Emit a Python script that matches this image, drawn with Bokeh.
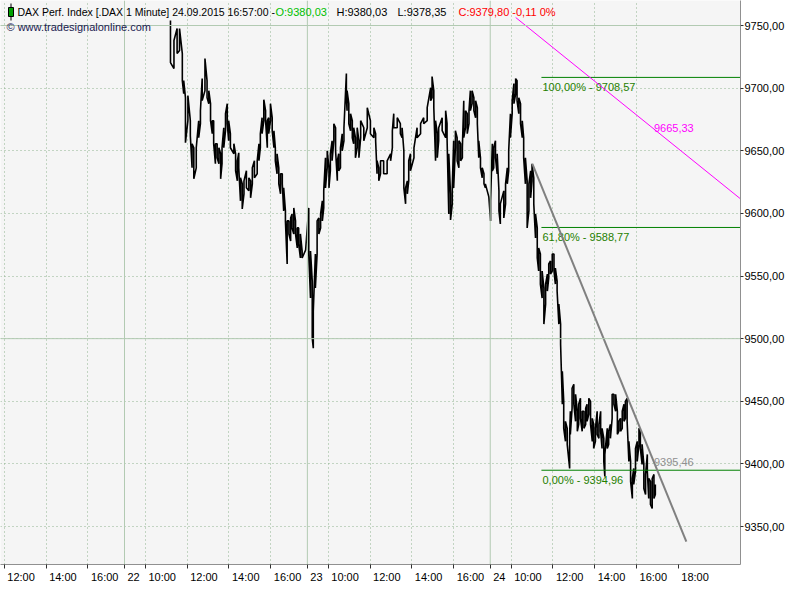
from bokeh.plotting import figure
from bokeh.models import FixedTicker, Span, Label, BoxAnnotation
from bokeh.embed import file_html
from bokeh.resources import INLINE
from bokeh.core.properties import value

# ---------------- data ----------------
# x unit: trading minutes since 22.09.2015 09:00 (one session = 525 min, 09:00-17:45)
bar_minute = [
    132, 142, 151, 158, 166, 170, 175, 182, 189, 194, 199, 206, 213, 218, 223, 231, 237, 242, 247, 252,
    256, 261, 266, 271, 276, 280, 285, 290, 295, 299, 304, 314, 319, 324, 328, 333, 338, 343, 350, 357,
    362, 367, 373, 381, 386, 390, 395, 400, 405, 410, 414, 419, 424, 429, 433, 438, 443, 448, 453, 457,
    462, 467, 472, 477, 481, 486, 491, 496, 500, 505, 510, 520,
    529, 534, 539, 542, 548, 553, 558, 563, 568, 572,
    577, 582, 587, 591, 596, 601, 606, 611, 615, 620, 625, 630, 637, 639, 644, 649, 654, 658, 663, 668,
    673, 678, 687, 697, 706, 716, 721, 725, 730, 735, 744, 754, 764, 769, 773, 783, 792, 797, 802, 807,
    812, 816, 821, 831, 840, 850, 859, 869, 879, 883, 888, 893, 898, 902, 912, 922, 926, 931, 936, 941,
    945, 950, 955, 960, 965, 970, 974, 979, 984, 989, 993, 998, 1003, 1008, 1013, 1017, 1022, 1027, 1032, 1036,
    1046, 1051, 1056, 1060, 1065, 1070, 1075, 1079,
    1089, 1094, 1099, 1103, 1108, 1113, 1118, 1123, 1127, 1132, 1137, 1142, 1146, 1151, 1156, 1161, 1166, 1170,
    1175, 1180, 1185, 1189, 1194, 1199, 1204, 1209, 1214, 1218, 1223, 1228, 1233, 1237, 1242, 1247, 1252, 1257,
    1261, 1266, 1271, 1278, 1280, 1285, 1290, 1295, 1300, 1304, 1309, 1314, 1319, 1324, 1328, 1333, 1338, 1343,
    1347, 1352, 1357, 1362, 1367, 1371, 1376, 1379, 1386, 1390, 1395, 1400, 1405, 1410, 1415, 1419, 1424, 1429,
    1434, 1438, 1443, 1448, 1453, 1458, 1462, 1467, 1472, 1477, 1481, 1486, 1491, 1496, 1501, 1505, 1510, 1515,
    1520, 1524,
]
bar_high = [
    9754, 9738, 9747.6, 9747.6, 9727.6, 9706, 9692.4, 9694, 9674, 9655.6, 9652.4, 9652.4, 9674, 9682, 9707.6,
    9723.6, 9706, 9698, 9687.6, 9674, 9674, 9655.6, 9655.6, 9652.4, 9647.6, 9652.4, 9668.4, 9679.6, 9687.6, 9674,
    9663.6, 9655.6, 9647.6, 9642, 9648.4, 9628.4, 9623.6, 9626, 9634, 9628.4, 9626, 9636.4, 9642, 9642, 9655.6,
    9663.6, 9676.4, 9690.8, 9682, 9674, 9676.4, 9687.6, 9676.4, 9666, 9652.4, 9647.6, 9636.4, 9631.6, 9631.6,
    9620.4, 9602, 9594, 9594, 9596.4, 9599.6, 9604.4, 9594, 9588.4, 9588.4, 9583.6, 9570, 9570.8,
    9604.4, 9570, 9546, 9522, 9567.6, 9594, 9596.4, 9599.6, 9610, 9618,
    9644.4, 9650, 9636.4, 9647.6, 9658, 9671.6, 9668.4, 9642, 9647.6, 9652.4, 9663.6, 9668.4, 9711.6, 9698,
    9687.6, 9679.6, 9674, 9668.4, 9660.4, 9668.4, 9658, 9674, 9668.4, 9684.4, 9674, 9668.4, 9663.6, 9642,
    9636.4, 9642, 9642, 9642, 9647.6, 9666, 9679.6, 9676.4, 9671.6, 9668.4, 9650, 9620.4, 9626, 9642, 9647.6,
    9652.4, 9668.4, 9671.6, 9676.4, 9684.4, 9700.4, 9709.2, 9698, 9674, 9663.6, 9668.4, 9676.4, 9682, 9671.6,
    9647.6, 9615.6, 9620.4, 9658, 9666, 9660.4, 9658, 9655.6, 9652.4, 9690, 9682, 9679.6, 9682, 9698, 9698,
    9692.4, 9690, 9684.4, 9658, 9644.4, 9636.4, 9631.6, 9623.6, 9613.2, 9610, 9655.6, 9652.4, 9658, 9647.6,
    9618, 9607.6,
    9618, 9623.6, 9636.4, 9650, 9679.6, 9690, 9703.6, 9707.6, 9706, 9692.4, 9687.6, 9674, 9660.4, 9644.4, 9626,
    9623.6, 9634, 9639.6, 9628.4, 9599.6, 9588.4, 9572.4, 9567.6, 9554, 9540.4, 9543.6, 9551.6, 9559.6, 9562,
    9567.6, 9567.6, 9556.4, 9546, 9527.6, 9511.6, 9474,
    9450, 9434, 9428.4, 9423.6, 9442, 9460.4, 9463.6, 9455.6, 9442, 9447.6, 9452.4, 9442, 9442, 9444.4, 9447.6,
    9452.4, 9450, 9436.4, 9431.6, 9428.4, 9442, 9431.6, 9442, 9428.4, 9420.4, 9407.6, 9428.4, 9426, 9431.6,
    9455.6, 9455.6, 9455.6, 9442, 9434, 9436.4, 9442, 9447.6, 9450, 9452.4, 9418, 9402, 9388.4, 9396.4, 9412.4,
    9418, 9428.4, 9426, 9415.6, 9399.6, 9391.6, 9407.6, 9388.4, 9386, 9388.4, 9391.6, 9383.6,
]
bar_low = [
    9720.4, 9715.6, 9727.6, 9730, 9706, 9695.6, 9656.4, 9674, 9662, 9636.4, 9627.6, 9636.4, 9660.4, 9671.6, 9690,
    9698, 9692.4, 9687.6, 9674, 9663.6, 9655.6, 9639.6, 9644.4, 9639.6, 9627.6, 9639.6, 9652.4, 9666, 9671.6, 9658,
    9652.4, 9647.6, 9634, 9626, 9636.4, 9610, 9603.6, 9615.6, 9620.4, 9618, 9612.4, 9623.6, 9628.4, 9631.6, 9642,
    9652.4, 9663.6, 9674, 9674, 9652.4, 9663.6, 9674, 9666, 9652.4, 9642, 9631.6, 9623.6, 9615.6, 9623.6, 9602,
    9594, 9559.6, 9583.6, 9578, 9588.4, 9583.6, 9583.6, 9572.4, 9575.6, 9564.4, 9564.4, 9570.8,
    9567.6, 9532.4, 9500.4, 9492.4, 9540.4, 9567.6, 9583.6, 9588.4, 9594, 9604.4,
    9620.4, 9636.4, 9620.4, 9634, 9642, 9658, 9650, 9626, 9634, 9636.4, 9650, 9658, 9692.4, 9682, 9671.6, 9666,
    9660.4, 9655.6, 9644.4, 9652.4, 9644.4, 9660.4, 9658, 9668.4, 9663.6, 9660.4, 9658, 9631.6, 9626, 9631.6,
    9631.6, 9631.6, 9642, 9652.4, 9668.4, 9668.4, 9663.6, 9660.4, 9620.4, 9607.6, 9615.6, 9626, 9634, 9644.4,
    9660.4, 9663.6, 9671.6, 9674, 9690, 9692.4, 9684.4, 9642, 9644.4, 9658, 9666, 9660.4, 9660.4, 9599.6, 9594.8,
    9607.6, 9620.4, 9652.4, 9642, 9636.4, 9642, 9644.4, 9660.4, 9668.4, 9663.6, 9671.6, 9682, 9687.6, 9682,
    9676.4, 9671.6, 9644.4, 9636.4, 9628.4, 9623.6, 9620.4, 9613.2, 9594, 9634, 9636.4, 9644.4, 9631.6, 9602,
    9591.6,
    9596.4, 9607.6, 9623.6, 9634, 9660.4, 9679.6, 9687.6, 9695.6, 9690, 9679.6, 9671.6, 9660.4, 9644.4, 9623.6,
    9588.4, 9602, 9612.4, 9626, 9607.6, 9580.4, 9564.4, 9554, 9543.6, 9532.4, 9511.6, 9527.6, 9538, 9548.4,
    9551.6, 9554, 9554, 9543.6, 9538, 9511.6, 9495.6, 9447.6,
    9428.4, 9418, 9415.6, 9396.4, 9423.6, 9444.4, 9447.6, 9434, 9426, 9431.6, 9436.4, 9426, 9428.4, 9431.6, 9434,
    9439.6, 9431.6, 9418, 9412.4, 9418, 9423.6, 9420.4, 9426, 9412.4, 9402, 9390, 9412.4, 9415.6, 9420.4, 9436.4,
    9447.6, 9442, 9423.6, 9426, 9426, 9428.4, 9434, 9436.4, 9434, 9402, 9386, 9372.4, 9383.6, 9394, 9402, 9415.6,
    9412.4, 9399.6, 9380.4, 9375.6, 9394, 9372.4, 9367.6, 9364.4, 9372.4, 9375.6,
]

# time axis (trading minutes) and its labels
x_tick_values = [-345, -225, -105, 0, 60, 180, 300, 420, 525, 585, 705, 825, 945,
                 1050, 1110, 1230, 1350, 1470, 1590]
x_tick_labels = ["12:00", "14:00", "16:00", "22", "10:00", "12:00", "14:00", "16:00", "23",
                 "10:00", "12:00", "14:00", "16:00", "24", "10:00", "12:00", "14:00", "16:00", "18:00"]
day_starts = [0, 525, 1050]
grid_hours = [-345, -225, -105, 60, 180, 300, 420, 585, 705, 825, 945, 1110, 1230, 1350, 1470]

# price axis
y_tick_values = [9350, 9400, 9450, 9500, 9550, 9600, 9650, 9700, 9750]
y_major_lines = [9500, 9750]

# Fibonacci retracement
fib_start = 1197
fib_levels = [9708.57, 9588.77, 9394.96]
fib_labels = ["100,00% - 9708,57", "61,80% - 9588,77", "0,00% - 9394,96"]

# trend lines
trend_minute = [1171, 1613]
trend_price = [9639.6, 9338.0]
trend_label = "9395,46"
trend_label_price = 9395.46
magenta_minute = [1123, 1768.5]
magenta_price = [9756.4, 9611.6]
magenta_label = "9665,33"
magenta_label_price = 9665.33
label_minute = 1520

header_title = "DAX Perf. Index [.DAX 1 Minute] 24.09.2015 16:57:00 -"
header_fields = [
    ("O:9380,03", "#00c000", 275),
    ("H:9380,03", "#000000", 336),
    ("L:9378,35", "#000000", 397),
    ("C:9379,80 -0,11 0%", "#ff0000", 458),
]

# ---------------- figure ----------------
FRAME_W, FRAME_H = 740, 564
X0, X1 = -356, 1768.5
Y0, Y1 = 9319.7, 9769.96
FONT = "Liberation Sans"

p = figure(frame_width=FRAME_W, frame_height=FRAME_H, x_range=(X0, X1), y_range=(Y0, Y1),
           y_axis_location="right", output_backend="svg", toolbar_location=None,
           min_border_left=0, min_border_top=0, min_border_right=44, min_border_bottom=20)
p.background_fill_color = "#f5f5f5"
p.border_fill_color = "white"
p.outline_line_color = None

# grids
p.ygrid.ticker = FixedTicker(ticks=y_tick_values)
p.xgrid.ticker = FixedTicker(ticks=grid_hours)
for g in (p.xgrid, p.ygrid):
    g.grid_line_color = "#8fb38f"
    g.grid_line_dash = "1 3"
    g.grid_line_width = 1
for v in y_major_lines:
    p.add_layout(Span(location=v, dimension="width", line_color="#b2cab2", line_width=1))
for v in day_starts:
    p.add_layout(Span(location=v, dimension="height", line_color="#b2cab2", line_width=1))

# x axis: labels start just right of their tick
px_per_min = FRAME_W / (X1 - X0)
def label_width(s):
    return sum(3.06 if c == ":" else 6.12 for c in s)
label_pos = [round(v + (3 + label_width(s) / 2) / px_per_min, 3) for v, s in zip(x_tick_values, x_tick_labels)]
xa = p.xaxis[0]
xa.ticker = FixedTicker(ticks=label_pos, minor_ticks=x_tick_values)
xa.major_label_overrides = {pos: s for pos, s in zip(label_pos, x_tick_labels)}
xa.major_tick_out = 0
xa.major_tick_in = 0
xa.minor_tick_out = 4
xa.minor_tick_in = 0
xa.minor_tick_line_color = "#303030"
xa.axis_line_color = "#909090"
xa.major_label_standoff = 2
xa.major_label_text_font = FONT
xa.major_label_text_font_size = "11px"
xa.major_label_text_color = "#000000"

ya = p.yaxis[0]
ya.ticker = FixedTicker(ticks=y_tick_values)
ya.major_label_overrides = {v: f"{v:.2f}".replace(".", ",") for v in y_tick_values}
ya.major_tick_out = 3
ya.major_tick_in = 0
ya.minor_tick_out = 0
ya.minor_tick_in = 0
ya.major_tick_line_color = "#303030"
ya.axis_line_color = "#909090"
ya.major_label_standoff = 1
ya.major_label_text_font = FONT
ya.major_label_text_font_size = "11px"
ya.major_label_text_color = "#000000"

# price path (1-minute bars drawn as a zig-zag through highs and lows)
xs, ys = [], []
for i, (m, h, l) in enumerate(zip(bar_minute, bar_high, bar_low)):
    xs += [m, m]
    ys += [h, l] if i % 2 == 0 else [l, h]
p.line(xs, ys, line_color="black", line_width=1.6)

# Fibonacci lines
for lev in fib_levels:
    p.segment(x0=fib_start, y0=lev, x1=X1 + 50, y1=lev, line_color="#008000", line_width=1)
p.text(x=[fib_start + 3] * 3, y=fib_levels, text=fib_labels, text_color="#1f7f00",
       text_font=value(FONT), text_font_size="11px", text_baseline="middle", y_offset=10)

# trend lines
p.line(magenta_minute, magenta_price, line_color="#ff00ff", line_width=1)
p.line(trend_minute, trend_price, line_color="#808080", line_width=2)
p.text(x=[label_minute], y=[magenta_label_price], text=[magenta_label], text_color="#ff00ff",
       text_font=value(FONT), text_font_size="11px", text_baseline="bottom", y_offset=0)
p.text(x=[label_minute], y=[trend_label_price], text=[trend_label], text_color="#909090",
       text_font=value(FONT), text_font_size="11px", text_baseline="middle", y_offset=-8)

# header (image pixel rows -> frame screen coordinates)
def sy(page_y):
    return FRAME_H - page_y

p.add_layout(BoxAnnotation(left=10, right=11, top=sy(3), bottom=sy(20), left_units="screen",
                           right_units="screen", top_units="screen", bottom_units="screen",
                           fill_color="black", fill_alpha=1, line_color=None))
p.add_layout(BoxAnnotation(left=8, right=13, top=sy(7), bottom=sy(16), left_units="screen",
                           right_units="screen", top_units="screen", bottom_units="screen",
                           fill_color="#00a000", fill_alpha=1, line_color="black", line_alpha=1))
p.add_layout(Label(x=17, y=sy(11), x_units="screen", y_units="screen", text=header_title,
                   text_color="#000000", text_font=FONT, text_font_size="10.5px", text_baseline="middle"))
for text, color, px in header_fields:
    p.add_layout(Label(x=px, y=sy(11), x_units="screen", y_units="screen", text=text,
                       text_color=color, text_font=FONT, text_font_size="11px", text_baseline="middle"))
p.add_layout(Label(x=6, y=sy(26), x_units="screen", y_units="screen",
                   text="\u00a9 www.tradesignalonline.com", text_color="#1a1a50",
                   text_font=FONT, text_font_size="11px", text_baseline="middle"))
p.add_layout(Label(x=FRAME_W + 4, y=sy(11), x_units="screen", y_units="screen", text="XXP",
                   text_color="#000000", text_font=FONT, text_font_size="11px", text_baseline="middle"))

open("out.html", "w").write(file_html(p, INLINE))
